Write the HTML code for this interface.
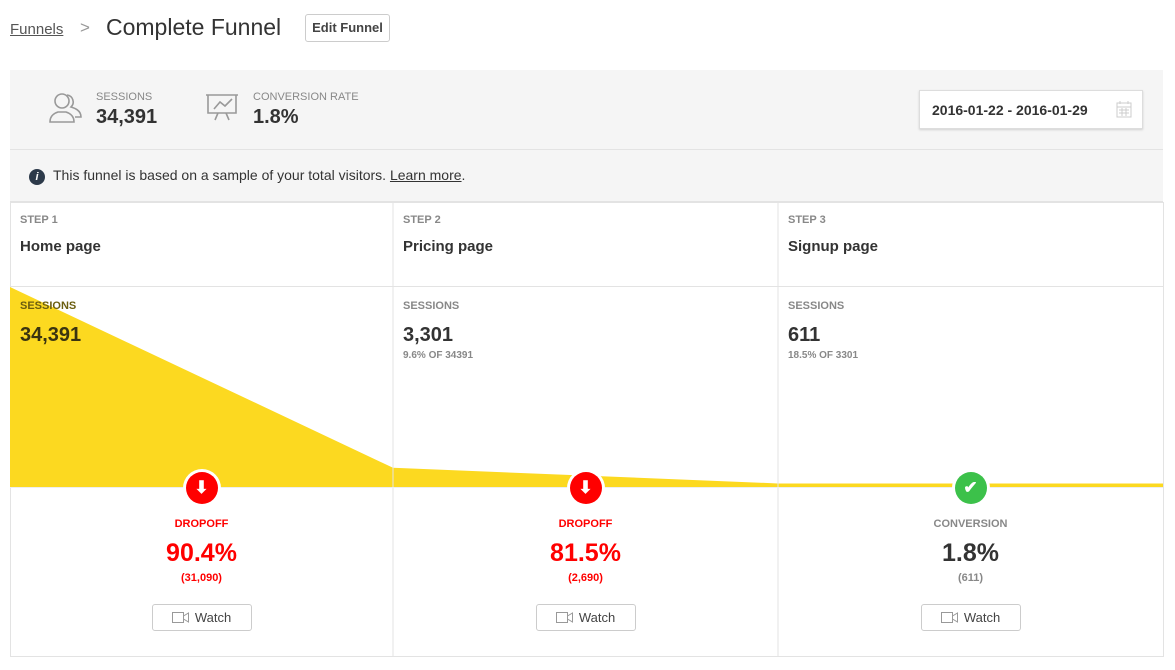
<!DOCTYPE html>
<html><head><meta charset="utf-8"><style>
*{box-sizing:border-box;margin:0;padding:0}
body{width:1175px;height:670px;background:#fff;font-family:"Liberation Sans",sans-serif;color:#333;position:relative;overflow:hidden}
.a{position:absolute;white-space:nowrap}
.lbl{font-size:11px;font-weight:bold;color:#888;text-transform:uppercase}
.btn{position:absolute;border:1px solid #ccc;border-radius:3px;background:#fff;font-size:13px;color:#444;text-align:center}
</style></head><body>
<div class="a" style="left:10px;top:21px;font-size:15px;color:#555;text-decoration:underline">Funnels</div>
<div class="a" style="left:80px;top:18px;font-size:17px;color:#999">&gt;</div>
<div class="a" style="left:106px;top:14px;font-size:23px;color:#333">Complete Funnel</div>
<div class="btn" style="left:305px;top:14px;width:85px;height:28px;line-height:26px;font-weight:bold">Edit Funnel</div>

<div class="a" style="left:10px;top:70px;width:1153px;height:132px;background:#f5f5f5;border-bottom:1px solid #e3e3e3"></div>
<div class="a" style="left:10px;top:149px;width:1153px;height:1px;background:#e3e3e3"></div>
<svg class="a" style="left:48px;top:92px" width="36" height="32" viewBox="0 0 36 32" fill="none" stroke="#999" stroke-width="1.6"><circle cx="14" cy="9" r="7"/><path d="M2 30c0-7 5-9 8-10h8c3 1 8 3 8 10z"/><path d="M19 3a7 7 0 0 1 4 12c3 1 10 3 10 10h-6"/></svg>
<div class="a lbl" style="left:96px;top:91px;font-weight:normal;color:#888">SESSIONS</div>
<div class="a" style="left:96px;top:106px;font-size:20px;font-weight:bold">34,391</div>
<svg class="a" style="left:205px;top:93px" width="34" height="30" viewBox="0 0 34 30" fill="none" stroke="#999" stroke-width="1.6"><path d="M1 2h32M3 2v18h28V2M9 16l6-7 5 4 7-7M13 20l-3 7M21 20l3 7"/></svg>
<div class="a lbl" style="left:253px;top:91px;font-weight:normal;color:#888">CONVERSION RATE</div>
<div class="a" style="left:253px;top:106px;font-size:20px;font-weight:bold">1.8%</div>
<div class="a" style="left:919px;top:90px;width:224px;height:39px;background:#fff;border:1px solid #ddd;box-shadow:0 1px 2px rgba(0,0,0,.15);font-size:14px;font-weight:bold;padding:11px 0 0 12px">2016-01-22 - 2016-01-29
<svg style="position:absolute;left:196px;top:10px" width="16" height="17" viewBox="0 0 16 17" fill="none" stroke="#ccc"><rect x="1" y="2" width="14" height="14"/><path d="M1 6h14M4 0v3M12 0v3M3 9h10M3 12h10M6 7v8M10 7v8"/></svg></div>

<div class="a" style="left:29px;top:169px;width:16px;height:16px;border-radius:50%;background:#2d3a4a;color:#fff;font-size:11px;font-weight:bold;font-style:italic;text-align:center;line-height:16px">i</div>
<div class="a" style="left:53px;top:167px;font-size:14px;color:#333">This funnel is based on a sample of your total visitors. <span style="text-decoration:underline">Learn more</span>.</div>

<div class="a" style="left:10px;top:202px;width:1154px;height:455px;border:1px solid #e3e3e3;background:#fff"></div>
<div class="a" style="left:10px;top:286px;width:1154px;height:1px;background:#e3e3e3"></div>
<svg class="a" id="funnel" style="left:0;top:0" width="1175" height="670"></svg>
<div id="cols"></div>
<script>
const steps=["Step 1","Step 2","Step 3"];
const names=["Home page","Pricing page","Signup page"];
const sessions=[34391,3301,611];
const sessionLabels=["34,391","3,301","611"];
const subLabels=["","9.6% OF 34391","18.5% OF 3301"];
const outcomeKinds=["DROPOFF","DROPOFF","CONVERSION"];
const outcomePct=["90.4%","81.5%","1.8%"];
const outcomeCount=["(31,090)","(2,690)","(611)"];

const colX=[10,393,778,1163];
const baseY=487, topY=287;
const yScale=v=>baseY-(baseY-topY)*v/sessions[0];
const svg=document.getElementById('funnel');
const NS='http://www.w3.org/2000/svg';
let pts=[];
for(let i=0;i<sessions.length;i++){
  const next=i+1<sessions.length?sessions[i+1]:sessions[i];
  pts.push([colX[i],yScale(sessions[i])]);pts.push([colX[i+1],yScale(next)]);
}
const poly=document.createElementNS(NS,'polygon');
poly.setAttribute('points',pts.map(p=>p.join(',')).join(' ')+` ${colX[3]},${baseY} ${colX[0]},${baseY}`);
poly.setAttribute('fill','#fcd920');


svg.appendChild(poly);
for(let i=1;i<3;i++){
  const l=document.createElementNS(NS,'line');
  l.setAttribute('x1',colX[i]);l.setAttribute('x2',colX[i]);l.setAttribute('y1',202);l.setAttribute('y2',657);
  l.setAttribute('stroke','#e3e3e3');
  
  
  svg.appendChild(l);
}
const bl=document.createElementNS(NS,'line');
bl.setAttribute('x1',10);bl.setAttribute('x2',1163);bl.setAttribute('y1',baseY+0.5);bl.setAttribute('y2',baseY+0.5);bl.setAttribute('stroke','#eee');


svg.appendChild(bl);

const cols=document.getElementById('cols');
for(let i=0;i<3;i++){
  const x=colX[i]+10, cx=(colX[i]+colX[i+1])/2;
  const conv=outcomeKinds[i]==="CONVERSION";
  const col=conv?'#333':'#f00';
  const d=document.createElement('div');
  
  
  d.innerHTML=`
<div class="a lbl" style="left:${x}px;top:214px">${steps[i]}</div>
<div class="a" style="left:${x}px;top:238px;font-size:15px;font-weight:bold">${names[i]}</div>
<div class="a lbl" style="left:${x}px;top:300px;color:${i==0?'#6b5e10':'#888'}">SESSIONS</div>
<div class="a" style="left:${x}px;top:324px;font-size:20px;font-weight:bold;color:${i==0?'#3a3410':'#333'}">${sessionLabels[i]}</div>
<div class="a lbl" style="left:${x}px;top:350px;font-size:10px">${subLabels[i]}</div>
<div class="a" style="left:${cx-19}px;top:469px;width:38px;height:38px;border-radius:50%;background:#fff;padding:3px"><div style="width:32px;height:32px;border-radius:50%;background:${conv?'#3cc14a':'#f00'};color:#fff;text-align:center;line-height:32px;font-size:17px;font-weight:bold">${conv?'✔':'⬇'}</div></div>
<div class="a lbl" style="left:${cx-60}px;width:120px;text-align:center;top:518px;color:${conv?'#888':'#f00'}">${outcomeKinds[i]}</div>
<div class="a" style="left:${cx-70}px;width:140px;text-align:center;top:539px;font-size:25px;font-weight:bold;color:${col}">${outcomePct[i]}</div>
<div class="a" style="left:${cx-60}px;width:120px;text-align:center;top:572px;font-size:11px;font-weight:bold;color:${conv?'#888':'#f00'}">${outcomeCount[i]}</div>
<div class="btn" style="left:${cx-50}px;top:604px;width:100px;height:27px;line-height:25px;font-size:13px"><svg width="17" height="11" viewBox="0 0 17 11" style="vertical-align:-1px;margin-right:6px" fill="none" stroke="#999"><rect x="0.5" y="0.5" width="11" height="10"/><path d="M11.5 4l5-3v9l-5-3"/></svg>Watch</div>`;
  cols.appendChild(d);
}
</script>
</body></html>
